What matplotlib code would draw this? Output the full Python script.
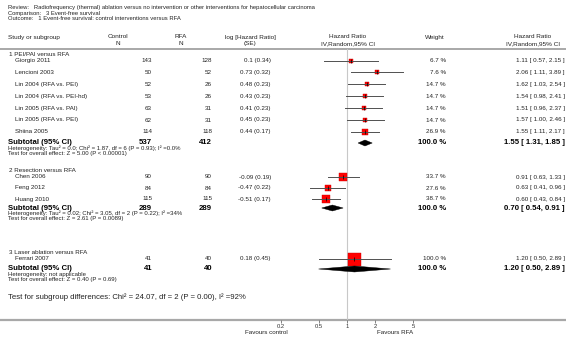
import numpy as np
import matplotlib.pyplot as plt
from matplotlib.patches import Polygon

plt.rcParams['font.family'] = ['Liberation Sans', 'DejaVu Sans']

# ---- data ----
groups = ["1 PEI/PAI versus RFA", "2 Resection versus RFA", "3 Laser ablation versus RFA"]

g1_studies = ["Giorgio 2011", "Lencioni 2003", "Lin 2004 (RFA vs. PEI)", "Lin 2004 (RFA vs. PEI-hd)",
              "Lin 2005 (RFA vs. PAI)", "Lin 2005 (RFA vs. PEI)", "Shiina 2005"]
g1_control = [143, 50, 52, 53, 63, 62, 114]
g1_rfa = [128, 52, 26, 26, 31, 31, 118]
g1_loghr = ["0.1 (0.34)", "0.73 (0.32)", "0.48 (0.23)", "0.43 (0.23)", "0.41 (0.23)", "0.45 (0.23)", "0.44 (0.17)"]
g1_weight = [6.7, 7.6, 14.7, 14.7, 14.7, 14.7, 26.9]
g1_hr = [1.11, 2.06, 1.62, 1.54, 1.51, 1.57, 1.55]
g1_lo = [0.57, 1.11, 1.03, 0.98, 0.96, 1.00, 1.11]
g1_hi = [2.15, 3.89, 2.54, 2.41, 2.37, 2.46, 2.17]

g2_studies = ["Chen 2006", "Feng 2012", "Huang 2010"]
g2_control = [90, 84, 115]
g2_rfa = [90, 84, 115]
g2_loghr = ["-0.09 (0.19)", "-0.47 (0.22)", "-0.51 (0.17)"]
g2_weight = [33.7, 27.6, 38.7]
g2_hr = [0.91, 0.63, 0.60]
g2_lo = [0.63, 0.41, 0.43]
g2_hi = [1.33, 0.96, 0.84]

g3_studies = ["Ferrari 2007"]
g3_control = [41]
g3_rfa = [40]
g3_loghr = ["0.18 (0.45)"]
g3_weight = [100.0]
g3_hr = [1.20]
g3_lo = [0.50]
g3_hi = [2.89]

sub_control = [537, 289, 41]
sub_rfa = [412, 289, 40]
sub_hr = [1.55, 0.70, 1.20]
sub_lo = [1.31, 0.54, 0.50]
sub_hi = [1.85, 0.91, 2.89]
het_text = ["Heterogeneity: Tau\u00b2 = 0.0; Chi\u00b2 = 1.87, df = 6 (P = 0.93); I\u00b2 =0.0%",
            "Heterogeneity: Tau\u00b2 = 0.02; Chi\u00b2 = 3.05, df = 2 (P = 0.22); I\u00b2 =34%",
            "Heterogeneity: not applicable"]
effect_text = ["Test for overall effect: Z = 5.00 (P < 0.00001)",
               "Test for overall effect: Z = 2.61 (P = 0.0089)",
               "Test for overall effect: Z = 0.40 (P = 0.69)"]

ticks = [0.2, 0.5, 1, 2, 5]
tick_labels = ["0.2", "0.5", "1", "2", "5"]

# ---- layout (pixel rows, top = 0) ----
W, H = 566, 345
fig = plt.figure(figsize=(W / 100, H / 100), dpi=100)
bg = fig.add_axes([0, 0, 1, 1])
bg.set_xlim(0, W)
bg.set_ylim(H, 0)
bg.axis('off')

AX_TOP, AX_BOT = 49, 320
fx0, fx1 = 281, 413
fa = fig.add_axes([fx0 / W, (H - AX_BOT) / H, (fx1 - fx0) / W, (AX_BOT - AX_TOP) / H])
fa.set_facecolor('none')
fa.set_xscale('log')
fa.set_xlim(0.2, 5)
fa.set_ylim(AX_BOT, AX_TOP)
for s in ['top', 'left', 'right', 'bottom']:
    fa.spines[s].set_visible(False)
fa.set_yticks([])
fa.set_xticks(ticks)
fa.set_xticklabels(tick_labels)
fa.minorticks_off()
fa.tick_params(axis='x', length=2, width=0.6, color='#707070', labelsize=4.2, pad=1, labelcolor='#333333')
fa.axvline(1, color='#c8c8c8', lw=0.8, zorder=0)

fs_title, fs_head, fs_row, fs_sub, fs_het, fs_diff = 4.2, 4.6, 4.5, 5.6, 4.3, 5.6
txt = '#222222'

# title block
bg.text(8, 7, "Review:   Radiofrequency (thermal) ablation versus no intervention or other interventions for hepatocellular carcinoma",
        fontsize=fs_title, va='center', color=txt)
bg.text(8, 13, "Comparison:   3 Event-free survival", fontsize=fs_title, va='center', color=txt)
bg.text(8, 19, "Outcome:   1 Event-free survival: control interventions versus RFA", fontsize=fs_title, va='center', color=txt)

# column headers
hy1, hy2 = 37, 43.5
bg.text(8, hy1, "Study or subgroup", fontsize=fs_head, va='center', color=txt)
bg.text(118, hy1, "Control", fontsize=fs_head, va='center', ha='center', color=txt)
bg.text(118, hy2, "N", fontsize=fs_head, va='center', ha='center', color=txt)
bg.text(181, hy1, "RFA", fontsize=fs_head, va='center', ha='center', color=txt)
bg.text(181, hy2, "N", fontsize=fs_head, va='center', ha='center', color=txt)
bg.text(250, hy1, "log [Hazard Ratio]", fontsize=fs_head, va='center', ha='center', color=txt)
bg.text(250, hy2, "(SE)", fontsize=fs_head, va='center', ha='center', color=txt)
bg.text(348, hy1, "Hazard Ratio", fontsize=fs_head, va='center', ha='center', color=txt)
bg.text(348, hy2, "IV,Random,95% CI", fontsize=fs_head, va='center', ha='center', color=txt)
bg.text(435, hy1, "Weight", fontsize=fs_head, va='center', ha='center', color=txt)
bg.text(533, hy1, "Hazard Ratio", fontsize=fs_head, va='center', ha='center', color=txt)
bg.text(533, hy2, "IV,Random,95% CI", fontsize=fs_head, va='center', ha='center', color=txt)
bg.plot([0, W], [AX_TOP, AX_TOP], color='#a8a8a8', lw=1.4)
bg.plot([0, W], [AX_BOT, AX_BOT], color='#a8a8a8', lw=1.6)

x_ctrl, x_rfa, x_log, x_w, x_ci = 152, 212, 271, 446, 565

groups_data = [
    (g1_studies, g1_control, g1_rfa, g1_loghr, g1_weight, g1_hr, g1_lo, g1_hi, 54, 60.5, 11.9, 143),
    (g2_studies, g2_control, g2_rfa, g2_loghr, g2_weight, g2_hr, g2_lo, g2_hi, 171, 177, 11, 208),
    (g3_studies, g3_control, g3_rfa, g3_loghr, g3_weight, g3_hr, g3_lo, g3_hi, 253, 258.5, 11, 269),
]

for gi, (names, ctrl, rfa, loghr, wt, hr, lo, hi, y_head, y0, dy, y_sub) in enumerate(groups_data):
    bg.text(9, y_head, groups[gi], fontsize=fs_row, va='center', color=txt)
    for i in range(len(names)):
        y = y0 + i * dy
        bg.text(15, y, names[i], fontsize=fs_row, va='center', color=txt)
        bg.text(x_ctrl, y, str(ctrl[i]), fontsize=fs_row, va='center', ha='right', color=txt)
        bg.text(x_rfa, y, str(rfa[i]), fontsize=fs_row, va='center', ha='right', color=txt)
        bg.text(x_log, y, loghr[i], fontsize=fs_row, va='center', ha='right', color=txt)
        bg.text(x_w, y, "%.1f %%" % wt[i], fontsize=fs_row, va='center', ha='right', color=txt)
        bg.text(x_ci, y, "%.2f [ %.2f, %.2f ]" % (hr[i], lo[i], hi[i]), fontsize=fs_row, va='center', ha='right', color=txt)
        # forest marks
        side_pt = 13 * np.sqrt(wt[i] / 100.0) * 0.72
        fa.plot([hr[i]], [y], marker='s', ms=side_pt, mfc='#ff0000', mec='#cc0000', mew=0.3, zorder=3, clip_on=False)
        fa.plot([lo[i], hi[i]], [y, y], color='#505050', lw=0.7, zorder=4, clip_on=False)
        fa.plot([hr[i]], [y], marker='|', ms=2.2, color='black', mew=0.5, zorder=5, clip_on=False)

    # subtotal row
    bg.text(8, y_sub, "Subtotal (95% CI)", fontsize=fs_sub, fontweight='bold', va='center', color='black')
    bg.text(x_ctrl, y_sub, str(sub_control[gi]), fontsize=fs_sub, fontweight='bold', va='center', ha='right', color='black')
    bg.text(x_rfa, y_sub, str(sub_rfa[gi]), fontsize=fs_sub, fontweight='bold', va='center', ha='right', color='black')
    bg.text(x_w, y_sub, "100.0 %", fontsize=fs_sub, fontweight='bold', va='center', ha='right', color='black')
    bg.text(x_ci, y_sub, "%.2f [ %.2f, %.2f ]" % (sub_hr[gi], sub_lo[gi], sub_hi[gi]),
            fontsize=fs_sub, fontweight='bold', va='center', ha='right', color='black')
    dia = Polygon([[sub_lo[gi], y_sub], [sub_hr[gi], y_sub - 3], [sub_hi[gi], y_sub], [sub_hr[gi], y_sub + 3]],
                  closed=True, facecolor='black', edgecolor='black', lw=0.3, zorder=4, clip_on=False)
    fa.add_patch(dia)
    bg.text(8, y_sub + 5.4, het_text[gi], fontsize=fs_het, va='center', color=txt)
    bg.text(8, y_sub + 10.6, effect_text[gi], fontsize=fs_het, va='center', color=txt)

bg.text(8, 297, "Test for subgroup differences: Chi\u00b2 = 24.07, df = 2 (P = 0.00), I\u00b2 =92%",
        fontsize=fs_diff, va='center', color=txt)

bg.text(288, 332, "Favours control", fontsize=fs_row, va='center', ha='right', color=txt)
bg.text(395, 332, "Favours RFA", fontsize=fs_row, va='center', ha='center', color=txt)

fig.savefig("out.png", dpi=100)
